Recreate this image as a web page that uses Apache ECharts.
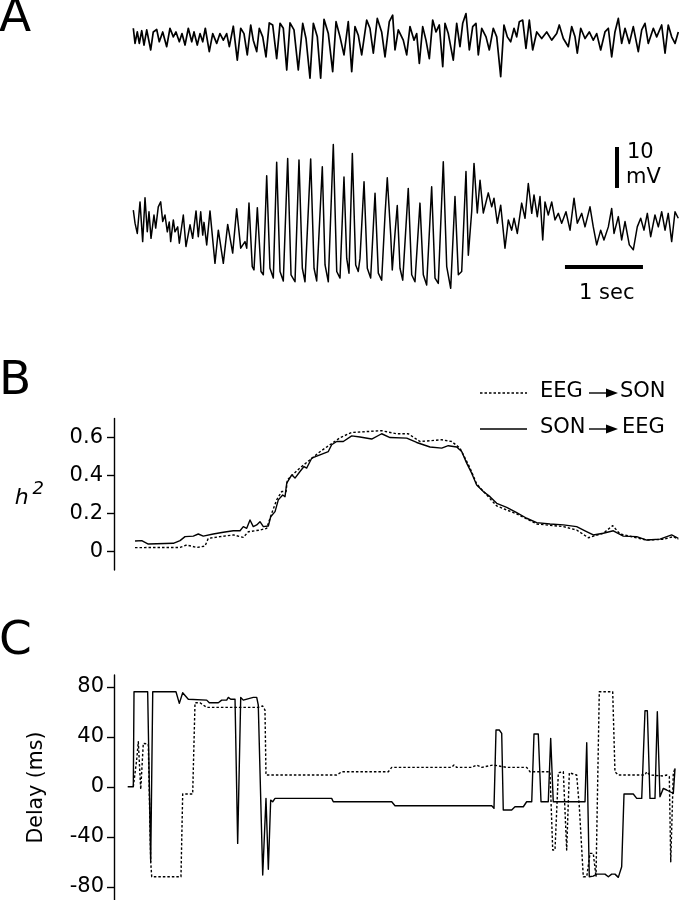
<!DOCTYPE html>
<html lang="en">
<head>
    <meta charset="UTF-8">
    <title>EEG / SON</title>
    <script src="https://cdn.jsdelivr.net/npm/echarts@6/dist/echarts.min.js"></script>
</head>
<style>
    *{
        margin: 0;
        padding: 0;
    }
    html , body{
        width: 100%;
        height: 100%;
        overflow: hidden;
        background: #fff;
    }
    .container{
        width: 680px;
        height: 900px;
    }
</style>
<body>
<div class="container"></div>
<script>
    // time in s, potentials in mV (turning points)
    const eegTrace=[[0.004,2.4],[0.026,-1.3],[0.055,1.5],[0.081,-1.3],[0.112,1.8],[0.141,-1.7],[0.176,2.0],[0.227,-2.9],[0.260,1.5],[0.304,2.1],[0.337,-0.9],[0.381,1.5],[0.432,-2.1],[0.474,2.4],[0.517,0.3],[0.551,1.5],[0.594,-0.9],[0.628,1.1],[0.667,-1.7],[0.709,2.4],[0.753,-0.9],[0.782,1.5],[0.824,-1.7],[0.859,1.1],[0.894,-0.9],[0.927,2.4],[0.978,-3.3],[1.022,1.1],[1.073,-1.3],[1.115,1.1],[1.158,-0.5],[1.201,1.1],[1.235,-2.1],[1.286,2.9],[1.337,-5.4],[1.381,2.4],[1.423,1.1],[1.465,-4.1],[1.509,3.2],[1.542,-0.5],[1.586,-3.3],[1.619,2.4],[1.663,0.3],[1.705,-4.6],[1.747,3.7],[1.791,3.2],[1.842,-5.0],[1.885,3.6],[1.927,2.4],[1.971,-7.8],[2.013,3.7],[2.064,2.0],[2.119,-7.8],[2.176,3.6],[2.218,-0.1],[2.269,-9.8],[2.312,3.6],[2.363,0.3],[2.406,-9.8],[2.449,4.6],[2.504,1.1],[2.560,-8.2],[2.603,4.0],[2.654,0.3],[2.705,-4.1],[2.760,4.0],[2.804,-8.2],[2.846,2.8],[2.888,0.7],[2.932,-4.1],[2.996,4.4],[3.038,2.4],[3.081,-3.7],[3.132,4.8],[3.188,1.5],[3.231,-4.6],[3.286,4.0],[3.329,5.6],[3.359,-2.9],[3.401,2.0],[3.465,-0.5],[3.509,-4.1],[3.551,2.8],[3.603,-0.5],[3.637,1.1],[3.671,-6.2],[3.714,2.8],[3.756,-0.5],[3.799,-5.0],[3.842,4.4],[3.885,1.5],[3.927,3.2],[3.971,-7.0],[4.000,3.6],[4.042,1.1],[4.106,-5.4],[4.150,3.6],[4.192,-2.1],[4.227,3.6],[4.269,6.0],[4.312,-2.9],[4.355,2.8],[4.397,3.6],[4.427,-4.1],[4.471,2.4],[4.526,0.3],[4.568,-2.9],[4.619,2.4],[4.663,0.3],[4.714,-9.4],[4.756,3.2],[4.799,0.3],[4.842,-0.9],[4.885,2.4],[4.919,0.3],[4.953,4.0],[4.996,4.4],[5.038,-2.5],[5.081,4.4],[5.124,-2.9],[5.176,1.5],[5.240,-0.1],[5.304,1.5],[5.368,-0.5],[5.432,1.1],[5.465,3.2],[5.517,-0.1],[5.581,-2.1],[5.624,2.8],[5.667,0.3],[5.696,-3.7],[5.740,2.4],[5.795,-0.1],[5.850,1.5],[5.901,-0.5],[5.945,1.1],[5.996,-2.9],[6.051,1.5],[6.094,2.4],[6.137,-4.6],[6.179,1.5],[6.222,4.8],[6.265,-1.3],[6.308,2.4],[6.363,-1.3],[6.414,2.8],[6.478,-3.3],[6.522,2.0],[6.564,3.6],[6.606,-1.3],[6.671,2.4],[6.714,0.3],[6.778,3.2],[6.821,-3.7],[6.862,3.2],[6.906,0.3],[6.949,-1.3],[6.991,1.5]];

    const sonTrace=[[0.004,1.2],[0.026,-2.0],[0.055,-4.5],[0.090,3.2],[0.124,-6.5],[0.154,4.2],[0.183,-4.1],[0.205,0.8],[0.231,-5.7],[0.269,0],[0.291,-3.2],[0.324,2.0],[0.355,3.2],[0.381,-1.6],[0.410,0],[0.440,-4.1],[0.465,-1.7],[0.483,-6.5],[0.517,-1.2],[0.538,-4.1],[0.573,-2.9],[0.594,-6.9],[0.645,0],[0.679,-7.7],[0.731,-2.4],[0.765,-5.7],[0.808,1.0],[0.837,-5.3],[0.868,0.8],[0.894,-4.9],[0.910,-1.8],[0.945,-7.3],[0.987,1.0],[1.051,-11.8],[1.094,-3.7],[1.158,-11.8],[1.214,-2.3],[1.278,-9.3],[1.329,1.5],[1.381,-8.1],[1.436,-6.5],[1.458,-8.1],[1.487,2.9],[1.529,-12.6],[1.551,-13.4],[1.594,1.8],[1.641,-13.8],[1.671,-14.6],[1.714,9.6],[1.756,-13.0],[1.799,-15.4],[1.842,12.9],[1.885,-13.8],[1.927,-16.1],[1.983,13.8],[2.026,-14.6],[2.077,-16.3],[2.128,13.4],[2.171,-13.0],[2.205,-16.3],[2.278,13.7],[2.321,-13.0],[2.355,-16.1],[2.427,11.8],[2.462,-12.2],[2.504,-16.3],[2.568,17.2],[2.612,-13.8],[2.654,-15.4],[2.705,9.3],[2.740,-10.6],[2.769,-14.2],[2.812,15.0],[2.855,-12.2],[2.888,-13.8],[2.910,-10.6],[2.962,8.1],[3.004,-13.0],[3.047,-15.4],[3.103,5.3],[3.145,-14.2],[3.188,-15.9],[3.231,0],[3.260,9.1],[3.304,-4.9],[3.324,-13.4],[3.359,-4.5],[3.388,2.3],[3.423,-13.0],[3.458,-15.9],[3.529,6.5],[3.573,-14.6],[3.615,-16.3],[3.679,2.9],[3.722,-14.6],[3.765,-17.1],[3.829,6.9],[3.872,-15.4],[3.914,-16.7],[3.978,13.0],[4.022,-12.6],[4.073,-17.9],[4.128,4.5],[4.171,-14.6],[4.214,-13.8],[4.269,10.6],[4.299,-9.8],[4.342,0.8],[4.372,12.6],[4.414,0.5],[4.449,8.5],[4.491,0.5],[4.555,5.4],[4.599,2.0],[4.628,4.1],[4.671,-2.0],[4.714,2.4],[4.769,-8.1],[4.812,-1.2],[4.855,-3.7],[4.885,-0.8],[4.927,-4.5],[4.983,2.9],[5.026,-0.8],[5.068,7.7],[5.112,0.4],[5.141,4.9],[5.183,-0.4],[5.218,4.5],[5.253,-6.1],[5.282,3.2],[5.324,0],[5.368,3.2],[5.410,-1.2],[5.453,0.4],[5.496,-2.0],[5.551,0.8],[5.603,-3.7],[5.654,4.1],[5.696,-2.0],[5.753,0.4],[5.795,-2.9],[5.859,2.0],[5.901,-2.9],[5.945,-7.3],[5.996,-3.7],[6.038,-6.1],[6.094,-2.9],[6.137,1.6],[6.167,-4.5],[6.222,-0.4],[6.265,-6.1],[6.308,-1.6],[6.363,-7.3],[6.414,-8.5],[6.465,-2.9],[6.509,-0.8],[6.551,-3.7],[6.594,0.4],[6.637,-5.3],[6.692,0],[6.735,-2.9],[6.778,0.8],[6.821,-3.7],[6.862,0.4],[6.906,-6.5],[6.949,0.8],[6.991,-0.8]];

    // scale bars: 10 mV and 1 s
    const barMv=[[6.205,6.6],[6.205,16.6]];
    const barSec=[[5.538,-12.7],[6.538,-12.7]];

    // h2 (B)
    const h2EegSon=[[0.026,0.018],[0.436,0.019],[0.603,0.019],[0.688,0.032],[0.816,0.019],[0.923,0.026],[0.965,0.067],[1.115,0.076],[1.286,0.085],[1.414,0.072],[1.479,0.102],[1.628,0.111],[1.714,0.120],[1.778,0.199],[1.842,0.270],[1.906,0.314],[1.962,0.314],[1.979,0.376],[2.141,0.439],[2.397,0.524],[2.654,0.598],[2.804,0.626],[3.188,0.635],[3.381,0.619],[3.529,0.619],[3.679,0.578],[3.958,0.587],[4.086,0.578],[4.192,0.543],[4.321,0.438],[4.406,0.354],[4.663,0.238],[4.919,0.196],[5.176,0.143],[5.517,0.129],[5.688,0.111],[5.838,0.070],[6.029,0.094],[6.150,0.134],[6.244,0.090],[6.586,0.058],[6.799,0.062],[6.927,0.076],[6.991,0.062]];
    const h2SonEeg=[[0.026,0.053],[0.112,0.055],[0.196,0.037],[0.517,0.041],[0.603,0.055],[0.667,0.076],[0.773,0.079],[0.837,0.090],[0.901,0.079],[1.029,0.090],[1.158,0.099],[1.286,0.107],[1.372,0.107],[1.414,0.129],[1.458,0.120],[1.500,0.164],[1.542,0.129],[1.586,0.138],[1.628,0.155],[1.671,0.129],[1.735,0.132],[1.765,0.181],[1.821,0.208],[1.863,0.270],[1.919,0.296],[1.949,0.287],[1.971,0.358],[2.035,0.402],[2.077,0.385],[2.141,0.420],[2.192,0.446],[2.227,0.438],[2.291,0.490],[2.397,0.508],[2.504,0.525],[2.547,0.561],[2.612,0.578],[2.696,0.578],[2.804,0.608],[2.910,0.602],[3.060,0.591],[3.188,0.619],[3.295,0.599],[3.509,0.596],[3.637,0.573],[3.808,0.549],[3.958,0.543],[4.042,0.556],[4.150,0.549],[4.214,0.525],[4.278,0.464],[4.342,0.411],[4.406,0.349],[4.491,0.314],[4.577,0.287],[4.663,0.252],[4.791,0.231],[4.919,0.203],[5.047,0.173],[5.176,0.150],[5.346,0.143],[5.517,0.138],[5.688,0.129],[5.795,0.107],[5.901,0.085],[6.029,0.094],[6.158,0.107],[6.286,0.079],[6.458,0.076],[6.586,0.058],[6.756,0.063],[6.906,0.085],[6.991,0.067]];

    // delay in ms (C)
    const delayEegSon=[[0.004,0],[0.047,21.4],[0.068,36],[0.099,-2.1],[0.132,34.7],[0.196,34.2],[0.227,-60],[0.240,-72],[0.615,-72],[0.637,-5.8],[0.765,-5.8],[0.795,67.2],[0.859,67.2],[0.945,63.5],[1.606,63.5],[1.663,64.6],[1.692,61.4],[1.705,9.4],[2.612,9.4],[2.676,12],[3.273,12],[3.317,15.5],[4.086,15.5],[4.115,17.4],[4.150,15.5],[4.342,15.5],[4.406,17.4],[4.471,15.5],[4.619,17.4],[4.791,15.5],[5.047,15.5],[5.090,12],[5.346,12],[5.381,-50.6],[5.410,-50.6],[5.453,11.2],[5.517,12],[5.560,-50.6],[5.594,11.2],[5.688,9.4],[5.722,-16],[5.773,-72],[5.817,-72],[5.859,-53.3],[5.901,-53.3],[5.936,-72],[5.978,76],[6.150,76],[6.179,12],[6.222,9.4],[6.564,9.4],[6.586,12],[6.628,9.4],[6.799,8.6],[6.842,9.4],[6.876,8],[6.894,-60],[6.927,10.7],[6.949,14.7]];
    const delaySonEeg=[[-0.068,0],[0.004,0],[0.013,76],[0.188,76],[0.227,-60],[0.253,76],[0.551,76],[0.594,66.7],[0.637,75.2],[0.709,70],[0.945,69.3],[0.978,67.2],[1.094,67.2],[1.137,69.3],[1.201,69.3],[1.222,71.5],[1.253,70],[1.308,70],[1.342,-45.3],[1.381,71.5],[1.414,69.3],[1.542,71.5],[1.586,71.5],[1.606,65.4],[1.663,-70.6],[1.679,-70.6],[1.705,-9.3],[1.735,-66],[1.765,-10.7],[1.791,-12],[1.821,-9.3],[2.547,-9.3],[2.568,-12],[3.317,-12],[3.359,-15.2],[4.599,-15.2],[4.628,-17.3],[4.654,45.4],[4.696,45.4],[4.727,42.7],[4.747,-18.6],[4.855,-18.6],[4.897,-16],[5.004,-16],[5.047,-12],[5.112,-12],[5.141,42.2],[5.196,42.2],[5.231,-12],[5.324,-12],[5.355,38.7],[5.388,-12],[5.795,-12],[5.817,35.2],[5.850,-72],[5.901,-71.5],[5.945,-69.9],[6.051,-69.9],[6.094,-72],[6.137,-69.9],[6.179,-69.9],[6.222,-72.5],[6.265,-64],[6.295,-5.8],[6.414,-5.8],[6.458,-9.3],[6.522,-9.3],[6.564,60.8],[6.594,60.8],[6.628,-9.3],[6.692,-9.3],[6.722,60],[6.756,-8],[6.799,-1.3],[6.842,-2.6],[6.885,-4],[6.927,-5.3],[6.949,14.7]];

    const h2Ticks=[0,0.2,0.4,0.6];
    const delayTicks=[-80,-40,0,40,80];

    const font='DejaVu Sans';
    const xMin=-0.2436, xMax=7.0128;
    let mycharts=echarts.init(document.querySelector('.container'),null,{renderer:'canvas'});

    function xAx(i){
        return {type:'value',gridIndex:i,min:xMin,max:xMax,show:false};
    }
    function trace(name,data,xi,lw,dash){
        return {
            name,type:'line',xAxisIndex:xi,yAxisIndex:xi,data,
            showSymbol:false,symbol:'none',silent:true,
            lineStyle:{color:'#000',width:lw,type:dash||'solid',join:'round'}
        };
    }
    let axisCommon={
        axisLine:{show:true,onZero:false,lineStyle:{color:'#000',width:1.4}},
        splitLine:{show:false}
    };

    let option={
        animation:false,
        backgroundColor:'#fff',
        textStyle:{fontFamily:font},
        grid:[
            {left:114,right:0,top:0,height:86},
            {left:114,right:0,top:129,height:172},
            {left:114,right:0,top:418.4,height:151.6},
            {left:114,right:0,top:675,height:225}
        ],
        xAxis:[xAx(0),xAx(1),xAx(2),xAx(3)],
        yAxis:[
            {type:'value',gridIndex:0,min:-11.7,max:9.3,show:false},
            {type:'value',gridIndex:1,min:-21,max:21,show:false},
            Object.assign({
                type:'value',gridIndex:2,min:-0.1,max:0.7,
                axisTick:{show:true,length:7,customValues:h2Ticks,lineStyle:{color:'#000',width:1.4}},
                axisLabel:{customValues:h2Ticks,color:'#000',fontSize:21,fontFamily:font,margin:11},
                name:'{h|h} {s|2}',nameLocation:'middle',nameRotate:0,nameGap:70,
                nameTextStyle:{rich:{
                    h:{fontSize:22,fontStyle:'italic',fontFamily:font,color:'#000',padding:[8,0,0,0]},
                    s:{fontSize:18,fontStyle:'italic',fontFamily:font,color:'#000',padding:[0,0,10,0]}
                }}
            },axisCommon),
            Object.assign({
                type:'value',gridIndex:3,min:-90.6,max:89.4,
                axisTick:{show:true,length:7,customValues:delayTicks,lineStyle:{color:'#000',width:1.4}},
                axisLabel:{customValues:delayTicks,color:'#000',fontSize:21,fontFamily:font,margin:10},
                name:'Delay (ms)',nameLocation:'middle',nameRotate:90,nameGap:67,
                nameTextStyle:{fontSize:20.5,fontFamily:font,color:'#000'}
            },axisCommon)
        ],
        series:[
            trace('EEG',eegTrace,0,1.7),
            trace('SON',sonTrace,1,1.5),
            trace('10 mV',barMv,1,4),
            trace('1 sec',barSec,1,4),
            trace('EEG → SON',h2EegSon,2,1.4,[2.5,2]),
            trace('SON → EEG',h2SonEeg,2,1.4),
            trace('EEG → SON delay',delayEegSon,3,1.4,[2.5,2]),
            trace('SON → EEG delay',delaySonEeg,3,1.4)
        ],
        graphic:[
            {type:'text',left:-1,top:-5,style:{text:'A',font:'47px DejaVu Sans',fill:'#000'}},
            {type:'text',left:-1,top:358,style:{text:'B',font:'47px DejaVu Sans',fill:'#000'}},
            {type:'text',left:-1,top:618,style:{text:'C',font:'47px DejaVu Sans',fill:'#000'}},
            {type:'text',left:627,top:142,style:{text:'10',font:'21px DejaVu Sans',fill:'#000'}},
            {type:'text',left:626,top:167,style:{text:'mV',font:'21px DejaVu Sans',fill:'#000'}},
            {type:'text',left:579,top:283,style:{text:'1 sec',font:'21px DejaVu Sans',fill:'#000'}},
            // legend
            {type:'line',shape:{x1:480,y1:393,x2:527,y2:393},style:{stroke:'#000',lineWidth:1.3,lineDash:[2.5,2]}},
            {type:'text',left:540,top:381,style:{text:'EEG',font:'21px DejaVu Sans',fill:'#000'}},
            {type:'line',shape:{x1:589,y1:393,x2:607,y2:393},style:{stroke:'#000',lineWidth:1.4}},
            {type:'polygon',shape:{points:[[606,388.5],[618,393],[606,397.5]]},style:{fill:'#000'}},
            {type:'text',left:620,top:381,style:{text:'SON',font:'21px DejaVu Sans',fill:'#000'}},
            {type:'line',shape:{x1:480,y1:429,x2:527,y2:429},style:{stroke:'#000',lineWidth:1.3}},
            {type:'text',left:540,top:417,style:{text:'SON',font:'21px DejaVu Sans',fill:'#000'}},
            {type:'line',shape:{x1:589,y1:429,x2:607,y2:429},style:{stroke:'#000',lineWidth:1.4}},
            {type:'polygon',shape:{points:[[606,424.5],[618,429],[606,433.5]]},style:{fill:'#000'}},
            {type:'text',left:622,top:417,style:{text:'EEG',font:'21px DejaVu Sans',fill:'#000'}}
        ]
    };
    mycharts.setOption(option);
</script>
</body>
</html>
